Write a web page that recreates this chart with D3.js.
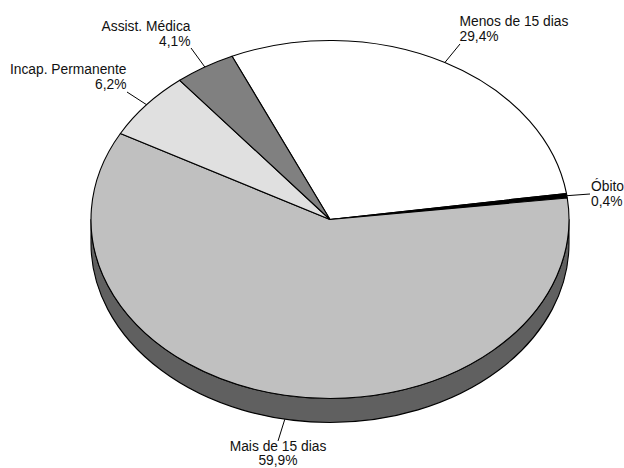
<!DOCTYPE html>
<html>
<head>
<meta charset="utf-8">
<script src="https://cdnjs.cloudflare.com/ajax/libs/d3/7.8.5/d3.min.js"></script>
<style>
  html, body { margin: 0; padding: 0; background: #fff; overflow: hidden; }
  svg { display: block; }
  text { font-family: "Liberation Sans", Arial, sans-serif; font-size: 13.8px; fill: #111; }
</style>
</head>
<body>
<div id="chart"></div>
<script>
// values, clockwise from the first slice
const categories = ["Menos de 15 dias", "Óbito", "Mais de 15 dias", "Incap. Permanente", "Assist. Médica"];
const values = [29.4, 0.4, 59.9, 6.2, 4.1];
const valueLabels = ["29,4%", "0,4%", "59,9%", "6,2%", "4,1%"];
const colors = ["#ffffff", "#000000", "#c0c0c0", "#e0e0e0", "#808080"];

const width = 624, height = 468;
const cx = 330, cy = 219.5, rx = 239, ry = 179, depth = 24;
const startDeg = -24.2;

// where each label sits: leader end, text x, baselines, anchor
const labelLayout = [
    { lx: 460, ly: 44, tx: 459.5, ty: 26, ty2: 41, anchor: "start" },
    { lx: 590, ly: 194, tx: 591, ty: 191, ty2: 206, anchor: "start" },
    { lx: 278, ly: 441, tx: 278, ty: 451, ty2: 465, anchor: "middle" },
    { lx: 127, ly: 92, tx: 126.5, ty: 74, ty2: 89, anchor: "end" },
    { lx: 191, ly: 48, tx: 190.5, ty: 31, ty2: 46, anchor: "end" }
];

const svg = d3.select("#chart").append("svg")
    .attr("width", width)
    .attr("height", height);

const rad = d => d * Math.PI / 180;

const pie = d3.pie().sort(null)
    .startAngle(rad(startDeg))
    .endAngle(rad(startDeg + 360));
const arcs = pie(values);

// circle squashed into the ellipse by the group transform
const arc = d3.arc().innerRadius(0).outerRadius(rx);

const px = a => cx + rx * Math.sin(a);
const py = a => cy - ry * Math.cos(a);

// side wall, only the front half of the pie shows it
const wall = svg.append("g");
arcs.forEach((d, i) => {
    const a0 = Math.max(d.startAngle, Math.PI / 2);
    const a1 = Math.min(d.endAngle, 3 * Math.PI / 2);
    if (a1 <= a0) return;
    const large = a1 - a0 > Math.PI ? 1 : 0;
    let p = `M${px(a0)},${py(a0)} A${rx},${ry} 0 ${large} 1 ${px(a1)},${py(a1)}`;
    p += ` L${px(a1)},${py(a1) + depth} A${rx},${ry} 0 ${large} 0 ${px(a0)},${py(a0) + depth} Z`;
    wall.append("path")
        .attr("d", p)
        .attr("fill", d3.color(colors[i]).darker(1.94))
        .attr("stroke", "#000")
        .attr("stroke-width", 1.1)
        .attr("stroke-linejoin", "round");
});

// top face
svg.append("g")
    .attr("transform", `translate(${cx},${cy}) scale(1,${ry / rx})`)
    .selectAll("path")
    .data(arcs)
    .enter()
    .append("path")
    .attr("d", arc)
    .attr("fill", (d, i) => colors[i])
    .attr("stroke", "#000")
    .attr("stroke-width", 1.1)
    .attr("stroke-linejoin", "round")
    .attr("vector-effect", "non-scaling-stroke");

// leader lines start on the rim at the middle of each slice
svg.append("g")
    .selectAll("line")
    .data(arcs)
    .enter()
    .append("line")
    .attr("x1", d => px((d.startAngle + d.endAngle) / 2))
    .attr("y1", d => {
        const m = (d.startAngle + d.endAngle) / 2;
        return py(m) + (Math.cos(m) < 0 ? depth : 0);
    })
    .attr("x2", (d, i) => labelLayout[i].lx)
    .attr("y2", (d, i) => labelLayout[i].ly)
    .attr("stroke", "#000")
    .attr("stroke-width", 1);

// labels
const labels = svg.append("g")
    .selectAll("text")
    .data(categories)
    .enter()
    .append("text")
    .attr("text-anchor", (d, i) => labelLayout[i].anchor);

labels.append("tspan")
    .attr("x", (d, i) => labelLayout[i].tx)
    .attr("y", (d, i) => labelLayout[i].ty)
    .text(d => d);

labels.append("tspan")
    .attr("x", (d, i) => labelLayout[i].tx)
    .attr("y", (d, i) => labelLayout[i].ty2)
    .text((d, i) => valueLabels[i]);
</script>
</body>
</html>
